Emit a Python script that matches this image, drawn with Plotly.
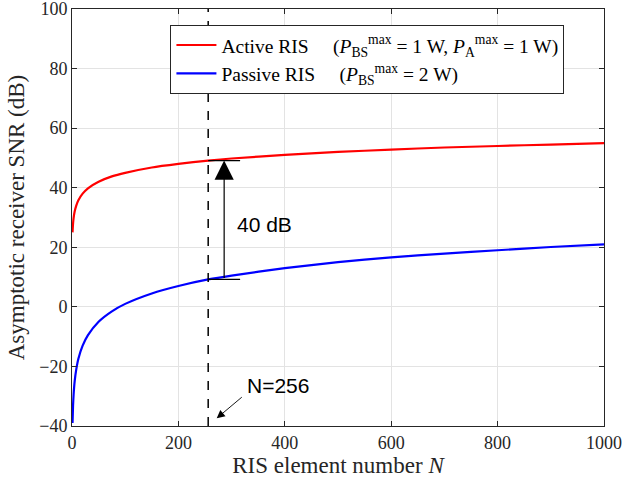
import plotly.graph_objects as go

# Data
N_values = [1, 2, 3, 5, 8, 12, 20, 30, 50, 75, 100, 150, 200, 256, 300, 400, 500, 600, 700, 800, 900, 1000]
active_snr = [25, 28, 29.8, 32, 34, 35.8, 38, 39.8, 42, 43.8, 45, 46.8, 48, 49.1, 49.8, 51, 52, 52.8, 53.5, 54, 54.5, 55]
passive_snr = [-39, -33, -29.5, -25, -21, -17.4, -13, -9.5, -5, -1.5, 1, 4.5, 7, 9.2, 10.5, 13, 15, 16.6, 17.9, 19, 20.1, 21]
x_ticks = [0, 200, 400, 600, 800, 1000]
y_ticks = [-40, -20, 0, 20, 40, 60, 80, 100]
marked_N = 256
gap_label = "40 dB"
marker_label = "N=256"

i_mark = N_values.index(marked_N)
y_top = active_snr[i_mark]
y_bot = passive_snr[i_mark]

serif = "Liberation Serif, Times New Roman, serif"
sans = "Liberation Sans, Arial, sans-serif"
gap = "&nbsp;" * 5

fig = go.Figure()
fig.add_trace(go.Scatter(
    x=N_values, y=active_snr, mode="lines", line=dict(color="#ff0000", width=2.2, shape="spline", smoothing=0.6),
    name="Active RIS" + gap + "(<i>P</i><sub>BS</sub><sup>max</sup> = 1 W, <i>P</i><sub>A</sub><sup>max</sup> = 1 W)"))
fig.add_trace(go.Scatter(
    x=N_values, y=passive_snr, mode="lines", line=dict(color="#0000ff", width=2.2, shape="spline", smoothing=0.6),
    name="Passive RIS" + gap + "(<i>P</i><sub>BS</sub><sup>max</sup> = 2 W)"))

# dashed vertical line at marked N
fig.add_shape(type="line", xref="x", yref="paper", x0=marked_N, x1=marked_N, y0=0, y1=1,
              line=dict(color="black", width=1.5, dash="dash"))
# caps
cap_x0 = marked_N
cap_x1 = marked_N + 60
for yv in (y_top, y_bot):
    fig.add_shape(type="line", xref="x", yref="y", x0=cap_x0, x1=cap_x1, y0=yv, y1=yv,
                  line=dict(color="black", width=1.2))
arrow_x = marked_N + 30
fig.add_annotation(x=arrow_x, y=y_top, ax=arrow_x, ay=y_bot, xref="x", yref="y", axref="x", ayref="y",
                   text="", showarrow=True, arrowhead=2, arrowsize=3.2, arrowwidth=1.2, arrowcolor="black")
fig.add_annotation(x=marked_N + 50, y=27.8, xref="x", yref="y", text=gap_label,
                   showarrow=False, xanchor="left", font=dict(family=sans, size=21, color="black"))
# N=256 label with arrow
fig.add_annotation(x=marked_N + 16, y=-37.4, ax=marked_N + 66, ay=-29.9, xref="x", yref="y", axref="x", ayref="y",
                   text="", showarrow=True, arrowhead=2, arrowsize=1.8, arrowwidth=0.9, arrowcolor="black")
fig.add_annotation(x=marked_N + 69, y=-26.5, xref="x", yref="y", text=marker_label, showarrow=False,
                   xanchor="left", font=dict(family=sans, size=21, color="black"))

axis_common = dict(showgrid=True, gridcolor="#e3e3e3", gridwidth=1, showline=True, linecolor="#262626",
                   linewidth=1, mirror="ticks", ticks="inside", ticklen=5, tickcolor="#262626",
                   zeroline=False, automargin=False, ticklabeloverflow="allow",
                   tickfont=dict(family=serif, size=18, color="#262626"))
fig.update_xaxes(range=[0, 1000], tickvals=x_ticks, title=dict(text="RIS element number <i>N</i>",
                 font=dict(family=serif, size=23, color="#262626"), standoff=2), **axis_common)
fig.update_yaxes(range=[-40, 100], tickvals=y_ticks, title=dict(text="Asymptotic receiver SNR (dB)",
                 font=dict(family=serif, size=23, color="#262626"), standoff=8), **axis_common)

fig.update_layout(
    width=624, height=482, margin=dict(l=72, r=20, t=9, b=56),
    plot_bgcolor="white", paper_bgcolor="white",
    legend=dict(x=0.185, y=0.962, xanchor="left", yanchor="top", bgcolor="white", bordercolor="#262626",
                borderwidth=1, font=dict(family=serif, size=19.5, color="black"), tracegroupgap=0,
                itemwidth=40),
    showlegend=True,
)
fig.write_html("out.html", config={"displayModeBar": False},
               post_script="document.body.style.margin='0';document.body.style.overflow='hidden';")
